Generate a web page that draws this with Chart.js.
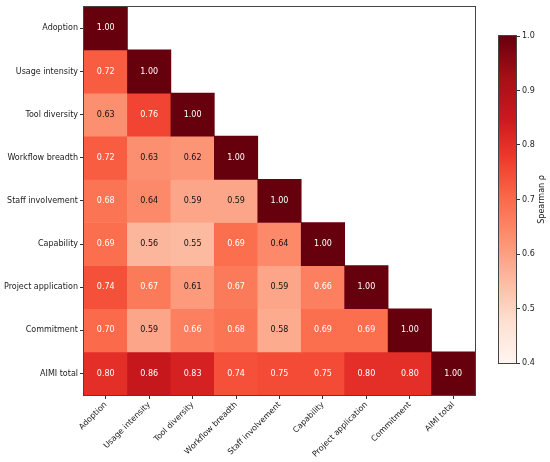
<!DOCTYPE html>
<html>
<head>
<meta charset="utf-8">
<script src="https://cdn.jsdelivr.net/npm/chart.js@4/dist/chart.umd.min.js"></script>
<style>
  html, body { margin: 0; padding: 0; background: #fff; }
  #wrap { position: relative; width: 550px; height: 462px; }
  #heat { position: absolute; left: 0; top: 0; }
  #cbar { position: absolute; left: 480px; top: 0; }
</style>
</head>
<body>
<div id="wrap">
  <canvas id="heat" width="550" height="462"></canvas>
  <canvas id="cbar" width="70" height="462"></canvas>
</div>
<script>
// variables (rows top to bottom, columns left to right)
const variables = ['Adoption', 'Usage intensity', 'Tool diversity', 'Workflow breadth',
    'Staff involvement', 'Capability', 'Project application', 'Commitment', 'AIMI total'];

// lower triangle of Spearman rho, one array per row
const rhoAdoption   = [1.00];
const rhoUsage      = [0.72, 1.00];
const rhoTools      = [0.63, 0.76, 1.00];
const rhoWorkflow   = [0.72, 0.63, 0.62, 1.00];
const rhoStaff      = [0.68, 0.64, 0.59, 0.59, 1.00];
const rhoCapability = [0.69, 0.56, 0.55, 0.69, 0.64, 1.00];
const rhoProject    = [0.74, 0.67, 0.61, 0.67, 0.59, 0.66, 1.00];
const rhoCommitment = [0.70, 0.59, 0.66, 0.68, 0.58, 0.69, 0.69, 1.00];
const rhoTotal      = [0.80, 0.86, 0.83, 0.74, 0.75, 0.75, 0.80, 0.80, 1.00];
const rhoRows = [rhoAdoption, rhoUsage, rhoTools, rhoWorkflow, rhoStaff,
    rhoCapability, rhoProject, rhoCommitment, rhoTotal];

// colorbar range / ticks
const cbTicks = [0.4, 0.5, 0.6, 0.7, 0.8, 0.9, 1.0];
const cbLabel = 'Spearman ρ';

/** matplotlib "Reds" */
const reds = ['#fff5f0', '#fee0d2', '#fcbba1', '#fc9272', '#fb6a4a', '#ef3b2c', '#cb181d', '#a50f15', '#67000d'];
const vmin = cbTicks[0], vmax = cbTicks[cbTicks.length - 1];

function hexRgb(h) {
    return [parseInt(h.slice(1, 3), 16), parseInt(h.slice(3, 5), 16), parseInt(h.slice(5, 7), 16)];
}
function redsColor(v) {
    let t = (v - vmin) / (vmax - vmin);
    t = Math.max(0, Math.min(1, t));
    const pos = t * (reds.length - 1);
    const i = Math.min(Math.floor(pos), reds.length - 2);
    const f = pos - i;
    const a = hexRgb(reds[i]), b = hexRgb(reds[i + 1]);
    const c = a.map((x, k) => Math.round(x + (b[k] - x) * f));
    return `rgb(${c[0]},${c[1]},${c[2]})`;
}

Chart.defaults.font.family = "'DejaVu Sans', sans-serif";
Chart.defaults.font.size = 8;
Chart.defaults.color = '#222';

// axes frame (spines)
const framePlugin = {
    id: 'frame',
    afterDraw(chart) {
        const { ctx, chartArea: a } = chart;
        ctx.save();
        ctx.strokeStyle = '#444';
        ctx.lineWidth = 1;
        ctx.strokeRect(Math.round(a.left) - 0.5, Math.round(a.top) - 0.5,
            Math.round(a.right - a.left) + 1, Math.round(a.bottom - a.top) + 1);
        ctx.restore();
    }
};

// numbers in cells
const cellText = {
    id: 'cellText',
    afterDatasetsDraw(chart) {
        const ctx = chart.ctx;
        ctx.save();
        ctx.font = "8px 'DejaVu Sans', sans-serif";
        ctx.textAlign = 'center';
        ctx.textBaseline = 'middle';
        chart.data.datasets.forEach((ds, di) => {
            const meta = chart.getDatasetMeta(di);
            meta.data.forEach((el, ci) => {
                const v = ds.rho[ci];
                if (v == null) return;
                const p = el.getCenterPoint();
                ctx.fillStyle = v > 0.65 ? '#fff' : '#111';
                ctx.fillText(v.toFixed(2), p.x, p.y);
            });
        });
        ctx.restore();
    }
};

const datasets = rhoRows.map((row, r) => ({
    label: variables[r],
    rho: variables.map((_, c) => (c < row.length ? row[c] : null)),
    data: variables.map((_, c) => (c < row.length ? [r, r + 1] : null)),
    backgroundColor: variables.map((_, c) => (c < row.length ? redsColor(row[c]) : 'transparent')),
    borderWidth: 0,
    barPercentage: 1,
    categoryPercentage: 1,
    grouped: false,
}));

new Chart(document.getElementById('heat'), {
    type: 'bar',
    data: { labels: variables, datasets },
    options: {
        responsive: false,
        animation: false,
        layout: { padding: { left: 0, top: 4, right: 75, bottom: 0 } },
        plugins: { legend: { display: false }, tooltip: { enabled: false } },
        scales: {
            x: {
                type: 'category',
                grid: { offset: false, drawOnChartArea: false, tickLength: 4, color: '#333' },
                border: { display: false },
                ticks: { minRotation: 45, maxRotation: 45, autoSkip: false, padding: 1, color: '#222' },
                afterFit(s) { s.height = 67; },
            },
            y: {
                type: 'linear',
                min: 0,
                max: variables.length,
                reverse: true,
                afterBuildTicks(s) { s.ticks = variables.map((_, i) => ({ value: i + 0.5 })); },
                grid: { drawOnChartArea: false, tickLength: 4, color: '#333' },
                border: { display: false },
                ticks: { autoSkip: false, padding: 2, color: '#222', callback: (v, i) => variables[i] },
                afterFit(s) { s.width = 84; },
            },
        },
    },
    plugins: [cellText, framePlugin],
});

// colorbar label, reads bottom to top
const cbTitle = {
    id: 'cbTitle',
    afterDraw(chart) {
        const { ctx, chartArea: a } = chart;
        ctx.save();
        ctx.translate(62, (a.top + a.bottom) / 2);
        ctx.rotate(-Math.PI / 2);
        ctx.font = "8px 'DejaVu Sans', sans-serif";
        ctx.fillStyle = '#222';
        ctx.textAlign = 'center';
        ctx.textBaseline = 'middle';
        ctx.fillText(cbLabel, 0, 0);
        ctx.restore();
    }
};

new Chart(document.getElementById('cbar'), {
    type: 'bar',
    data: {
        labels: [cbLabel],
        datasets: [{
            data: [[vmin, vmax]],
            backgroundColor(c) {
                const { ctx, chartArea } = c.chart;
                if (!chartArea) return reds[4];
                const g = ctx.createLinearGradient(0, chartArea.bottom, 0, chartArea.top);
                reds.forEach((col, i) => g.addColorStop(i / (reds.length - 1), col));
                return g;
            },
            borderWidth: 0,
            barPercentage: 1,
            categoryPercentage: 1,
        }]
    },
    options: {
        responsive: false,
        animation: false,
        layout: { padding: { left: 19, top: 36, bottom: 99, right: 0 } },
        plugins: { legend: { display: false }, tooltip: { enabled: false } },
        scales: {
            x: { display: false },
            y: {
                position: 'right',
                min: vmin,
                max: vmax,
                afterBuildTicks(s) { s.ticks = cbTicks.map(v => ({ value: v })); },
                grid: { drawOnChartArea: false, tickLength: 4, color: '#333' },
                border: { display: false },
                ticks: { padding: 2, color: '#222', callback: v => v.toFixed(1) },
                afterFit(s) { s.width = 34; },
            },
        },
    },
    plugins: [framePlugin, cbTitle],
});
</script>
</body>
</html>
